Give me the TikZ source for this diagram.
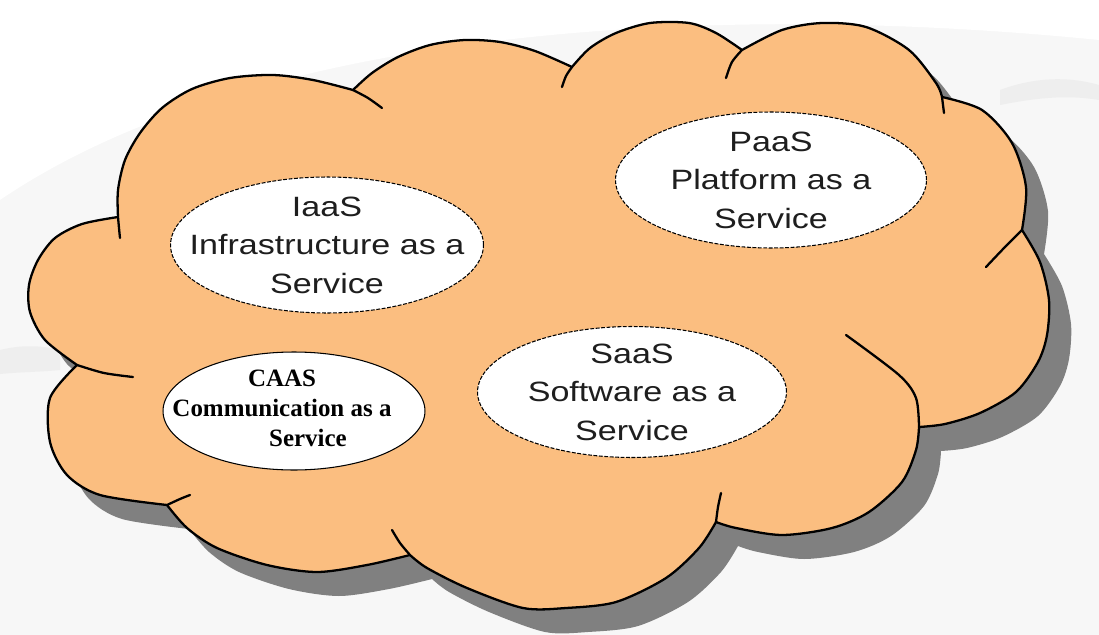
\documentclass[tikz,border=0pt]{standalone}
\usepackage{fontspec}
\usepackage{tikz}
\usetikzlibrary{shapes.geometric}
\newfontfamily\ovalfont[FakeStretch=1.22]{Liberation Sans}
\newfontfamily\caasfont{Liberation Serif}
\definecolor{cloudfill}{RGB}{251,190,128}
\definecolor{cloudshade}{RGB}{128,128,128}
\definecolor{backdrop}{RGB}{247,247,247}
\definecolor{streak}{RGB}{238,238,238}
\definecolor{ovaltext}{RGB}{30,30,30}
\tikzset{
    cloud-edge/.style = {draw=black, line width=1.3pt, line cap=round, line join=round},
    service-oval/.style = {draw=black, fill=white, ellipse, inner sep=0pt, line width=0.6pt, dash pattern=on 2.2pt off 0.9pt},
    caas-oval/.style = {draw=black, fill=white, ellipse, inner sep=0pt, line width=0.6pt},
    service-text/.style = {font=\ovalfont\fontsize{15.9}{21.9}\selectfont, text=ovaltext, align=center, inner sep=0pt},
    caas-text/.style = {font=\caasfont\bfseries\fontsize{14.2}{17}\selectfont, align=center, inner sep=0pt},
}
% outline of the cloud, one smooth plot per bump
\def\cloudpath{(77,365)
    -- plot[smooth] coordinates {(77,365) (45,340) (30,312) (29,285) (38,260) (55,238) (82,224) (118,217)}
    -- plot[smooth] coordinates {(118,217) (118,190) (125,160) (140,133) (162,108) (192,89) (230,78) (273,75) (313,80) (353,90)}
    -- plot[smooth] coordinates {(353,90) (372,73) (398,57) (430,45) (465,40) (500,42) (535,51) (572,67)}
    -- plot[smooth] coordinates {(572,67) (590,48) (616,33) (650,23) (689,23) (716,33) (742,50)}
    -- plot[smooth] coordinates {(742,50) (782,30) (822,23) (866,27) (909,50) (936,83) (942,97)}
    -- plot[smooth] coordinates {(942,97) (982,110) (1012,143) (1026,187) (1022,230)}
    -- plot[smooth] coordinates {(1022,230) (1040,262) (1049,300) (1047,335) (1038,362) (1016,392) (980,413) (945,424) (919,427)}
    -- plot[smooth] coordinates {(919,427) (916,450) (902,482) (869,512) (832,528) (782,535) (736,528) (716,522)}
    -- plot[smooth] coordinates {(716,522) (699,548) (666,578) (616,602) (566,608) (523,608) (467,588) (427,568) (410,555)}
    -- plot[smooth] coordinates {(410,555) (367,565) (317,572) (267,565) (217,548) (187,528) (167,505)}
    -- plot[smooth] coordinates {(167,505) (100,495) (67,475) (50,442) (50,398) (77,365)}
    -- cycle}

\begin{document}
\begin{tikzpicture}[x=0.02cm, y=-0.02cm]
\useasboundingbox (0,0) rectangle (1099,635);
% backdrop
\fill[backdrop] (0,0) rectangle (1099,635);
\fill[white] (0,0) -- (1099,0) -- (1099,40) .. controls (700,0) and (250,30) .. (0,200) -- cycle;
\fill[streak] (0,350) .. controls (20,345) and (40,345) .. (60,350) -- (60,370) .. controls (40,372) and (20,372) .. (0,374) -- cycle;
\fill[streak] (1000,90) .. controls (1040,75) and (1075,78) .. (1099,85) -- (1099,100) .. controls (1070,95) and (1040,97) .. (1000,105) -- cycle;

% shadow and cloud
\fill[cloudshade, shift={(22,24)}] \cloudpath;
\path[cloud-edge, fill=cloudfill] \cloudpath;

% short inner strokes at the notches
\draw[cloud-edge] plot[smooth] coordinates {(77,365) (104,373) (133,377)};
\draw[cloud-edge] plot[smooth] coordinates {(118,217) (119,228) (120,238)};
\draw[cloud-edge] plot[smooth] coordinates {(353,90) (368,98) (382,108)};
\draw[cloud-edge] plot[smooth] coordinates {(572,67) (566,76) (562,87)};
\draw[cloud-edge] plot[smooth] coordinates {(742,50) (732,62) (726,78)};
\draw[cloud-edge] (942,97) -- (944,113);
\draw[cloud-edge] plot[smooth] coordinates {(1022,230) (1005,247) (986,267)};
\draw[cloud-edge] plot[smooth] coordinates {(919,427) (916,398) (899,375) (846,335)};
\draw[cloud-edge] plot[smooth] coordinates {(716,522) (718,507) (721,493)};
\draw[cloud-edge] plot[smooth] coordinates {(410,555) (400,543) (392,530)};
\draw[cloud-edge] plot[smooth] coordinates {(167,505) (180,499) (190,495)};

% service ovals
\node[service-oval, minimum width=6.26cm, minimum height=2.72cm] (iaas) at (327,245) {};
\node[service-text] (iaas-label) at (iaas) {IaaS\\Infrastructure as a\\Service};

\node[service-oval, minimum width=6.22cm, minimum height=2.72cm] (paas) at (771,180) {};
\node[service-text] (paas-label) at (paas) {PaaS\\Platform as a\\Service};

\node[service-oval, minimum width=6.18cm, minimum height=2.62cm] (saas) at (632,392) {};
\node[service-text] (saas-label) at (saas) {SaaS\\Software as a\\Service};

\node[caas-oval, minimum width=5.24cm, minimum height=2.36cm] (caas) at (294,411) {};
\node[caas-text] (caas-label) at (282,408) {CAAS\\Communication as a\\\hspace*{1.04cm}Service};
\end{tikzpicture}
\end{document}
